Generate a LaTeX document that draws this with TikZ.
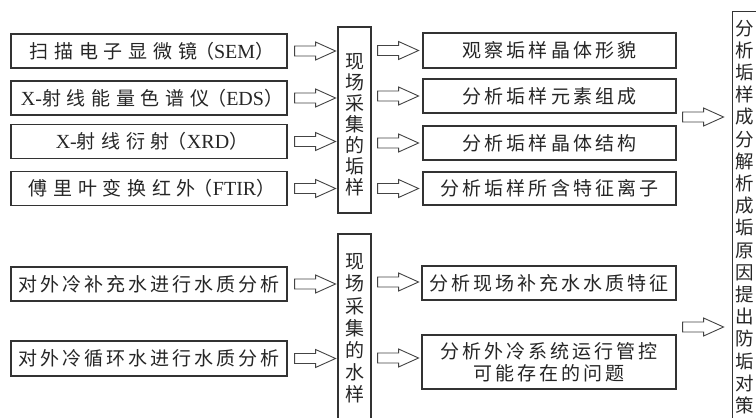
\documentclass[tikz,border=0pt]{standalone}
\usepackage{fontspec}
\setmainfont{Liberation Serif}
\newfontfamily\cjk{Noto Sans CJK SC}
\newfontfamily\cjkwide[LetterSpace=30]{Noto Sans CJK SC}
\newfontfamily\cjkmid[LetterSpace=16]{Noto Sans CJK SC}
\newcommand\lat[1]{{\rmfamily\fontsize{20}{22}\selectfont #1}}
\newcommand\lpar{\makebox[17pt][r]{（}}
\newcommand\rpar{\makebox[13pt][l]{）}}
\usetikzlibrary{calc}
\definecolor{boxc}{HTML}{333333}
\definecolor{textc}{HTML}{262626}
\definecolor{arrc}{HTML}{444444}
\begin{document}
\begin{tikzpicture}[x=1pt,y=-1pt]
\tikzset{
 box/.style={draw=boxc, line width=1.1pt, inner sep=0pt, text=textc},
 wide/.style={font=\cjkwide\fontsize{19}{21}\selectfont},
 mid/.style={font=\cjkmid\fontsize{19}{21}\selectfont},
 vert/.style={font=\cjk\fontsize{19}{21}\selectfont, align=center, text=textc, inner sep=0pt},
 vertb/.style={font=\cjk\fontsize{18.5}{22.2}\selectfont, align=center, text=textc, inner sep=0pt},
 harrow/.pic={\draw[arrc, line width=0.9pt] (0,-5)--(21,-5)--(21,-9)--(41,0)--(21,9)--(21,5)--(0,5)--cycle;}
}
\useasboundingbox[fill=white] (0,0) rectangle (756,418);
% left top
\node[box, wide, minimum width=276pt, minimum height=34pt] (s1) at (149,51) {扫描电子显微镜\lpar\lat{SEM}\rpar};
\node[box, wide, minimum width=276pt, minimum height=34pt] (s2) at (149,98) {\lat{X-}射线能量色谱仪\lpar\lat{EDS}\rpar};
\node[box, wide, minimum width=276pt, minimum height=34pt] (s3) at (149,141.5) {\lat{X-}射线衍射\lpar\lat{XRD}\rpar};
\node[box, wide, minimum width=276pt, minimum height=34pt] (s4) at (149,188.5) {傅里叶变换红外\lpar\lat{FTIR}\rpar};
% sample box
\node[box, minimum width=33pt, minimum height=186pt] (gy) at (354.5,120) {};
\node[vert] (gyt) at (354.5,125) {现\\场\\采\\集\\的\\垢\\样};
% right top
\node[box, mid, minimum width=253pt, minimum height=35pt] (a1) at (549.5,50.5) {观察垢样晶体形貌};
\node[box, mid, minimum width=253pt, minimum height=34pt] (a2) at (549.5,96) {分析垢样元素组成};
\node[box, mid, minimum width=253pt, minimum height=34pt] (a3) at (549.5,143) {分析垢样晶体结构};
\node[box, mid, minimum width=253pt, minimum height=33pt] (a4) at (549.5,188.5) {分析垢样所含特征离子};
% bottom
\node[box, mid, minimum width=276pt, minimum height=34pt] (w1) at (149,284) {对外冷补充水进行水质分析};
\node[box, mid, minimum width=276pt, minimum height=35pt] (w2) at (149,358.5) {对外冷循环水进行水质分析};
\node[box, minimum width=33pt, minimum height=196pt] (sy) at (354.5,332) {};
\node[vert, font=\cjk\fontsize{19}{22.2}\selectfont] (syt) at (354.5,328.5) {现\\场\\采\\集\\的\\水\\样};
\node[box, mid, minimum width=254pt, minimum height=34pt] (b1) at (549,283) {分析现场补充水水质特征};
\node[box, mid, minimum width=254pt, minimum height=54pt, align=center, font=\cjkmid\fontsize{19}{21.5}\selectfont] (b2) at (549,362) {分析外冷系统运行管控\\可能存在的问题};
% result box
\node[box, minimum width=38pt, minimum height=420pt, anchor=north west] (res) at (732,11) {};
\node[vertb] (rest) at (745,217) {分\\析\\垢\\样\\成\\分\\解\\析\\成\\垢\\原\\因\\提\\出\\防\\垢\\对\\策};
% arrows
\foreach \n in {s1,s2,s3,s4} \pic at ($(\n.east)+(7,0)$) {harrow};
\foreach \n in {a1,a2,a3,a4} \pic at ($(gy.east |- \n.west)+(6,0)$) {harrow};
\foreach \n in {w1,w2} \pic at ($(\n.east)+(7,0)$) {harrow};
\pic at ($(sy.east |- b1.west)+(6,-1)$) {harrow};
\pic at ($(sy.east |- b2.west)+(6,-4)$) {harrow};
\pic at ($(a2.east)!0.5!(a3.east)+(6,-2.5)$) {harrow};
\pic at ($(b1.east |- 0,327)+(6,0)$) {harrow};
\end{tikzpicture}
\end{document}
